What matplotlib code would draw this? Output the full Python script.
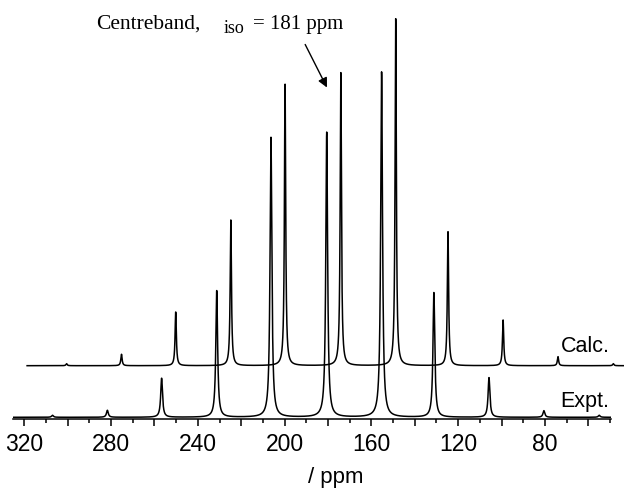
import numpy as np
import matplotlib
matplotlib.use('Agg')
import matplotlib.pyplot as plt
from matplotlib.ticker import MultipleLocator, FuncFormatter

# spinning sideband manifold, centreband at 181 ppm
positions    = [307.0, 281.7, 256.7, 231.3, 206.3, 180.6, 155.3, 131.2, 105.8, 80.5, 55.0]
expt_heights = [2.0, 7.0, 39.0, 126.6, 280.0, 285.0, 345.3, 124.6, 39.6, 6.6, 2.0]
calc_heights = [2.0, 11.4, 53.7, 145.7, 281.7, 293.0, 347.0, 134.0, 45.7, 9.0, 2.0]
expt_fwhm, calc_fwhm = 1.0, 0.7
calc_yoff, calc_xoff = 51.6, 6.5          # stacking offsets of the calc trace
x_left, x_right = 325.2, 49.7

W, H = 624, 490

def lorentz(x, pos, hts, fwhm):
    g = (fwhm / 2.)**2
    y = np.zeros_like(x)
    for p, h in zip(pos, hts):
        y += h * g / ((x - p)**2 + g)
    return y

def px(x, y):
    return x / W, 1 - y / H

x = np.linspace(x_left, x_right, 12000)
y_expt = lorentz(x, positions, expt_heights, expt_fwhm)
y_calc = lorentz(x, positions, calc_heights, calc_fwhm)

fig = plt.figure(figsize=(W/100., H/100.), dpi=100)
ax = fig.add_axes([13/W, (H-419)/H, 597.7/W, 409/H])

ax.plot(x, y_expt, color='black', lw=1.1)
ax.plot(x - calc_xoff, y_calc + calc_yoff, color='black', lw=1.1, clip_on=False)

ax.set_xlim(x_left, x_right)
ax.set_ylim(-1.7, 407.3)

for s in ['left', 'top', 'right']:
    ax.spines[s].set_visible(False)
ax.spines['bottom'].set_linewidth(1.1)
ax.set_yticks([])

ax.xaxis.set_major_locator(MultipleLocator(20))
ax.xaxis.set_minor_locator(MultipleLocator(10))
ax.xaxis.set_major_formatter(FuncFormatter(lambda v, p: '%d' % v if round(v) % 40 == 0 else ''))
ax.tick_params(axis='x', which='major', direction='out', length=5, width=1.1, pad=5, labelsize=16.5)
ax.tick_params(axis='x', which='minor', direction='out', length=3, width=1.1)
for lab in ax.get_xticklabels():
    lab.set_family('Liberation Sans')

fig.text(*px(336, 483), '/ ppm', family='Liberation Sans', fontsize=16, ha='center', va='baseline')
fig.text(*px(561, 351.5), 'Calc.', family='Liberation Sans', fontsize=15.5, ha='left', va='baseline')
fig.text(*px(560, 406.5), 'Expt.', family='Liberation Sans', fontsize=15.5, ha='left', va='baseline')

fig.text(*px(96, 29), 'Centreband,', family='Liberation Serif', fontsize=15.5, va='baseline')
fig.text(*px(224, 33), 'iso', family='Liberation Serif', fontsize=13, va='baseline')
fig.text(*px(253, 29), '= 181 ppm', family='Liberation Serif', fontsize=15, va='baseline')

ax.annotate('', xy=(179.9, 327.3), xytext=(191.1, 375.3),
            arrowprops=dict(arrowstyle='-|>', color='black', lw=1, mutation_scale=14))

fig.savefig('out.png', dpi=100)
